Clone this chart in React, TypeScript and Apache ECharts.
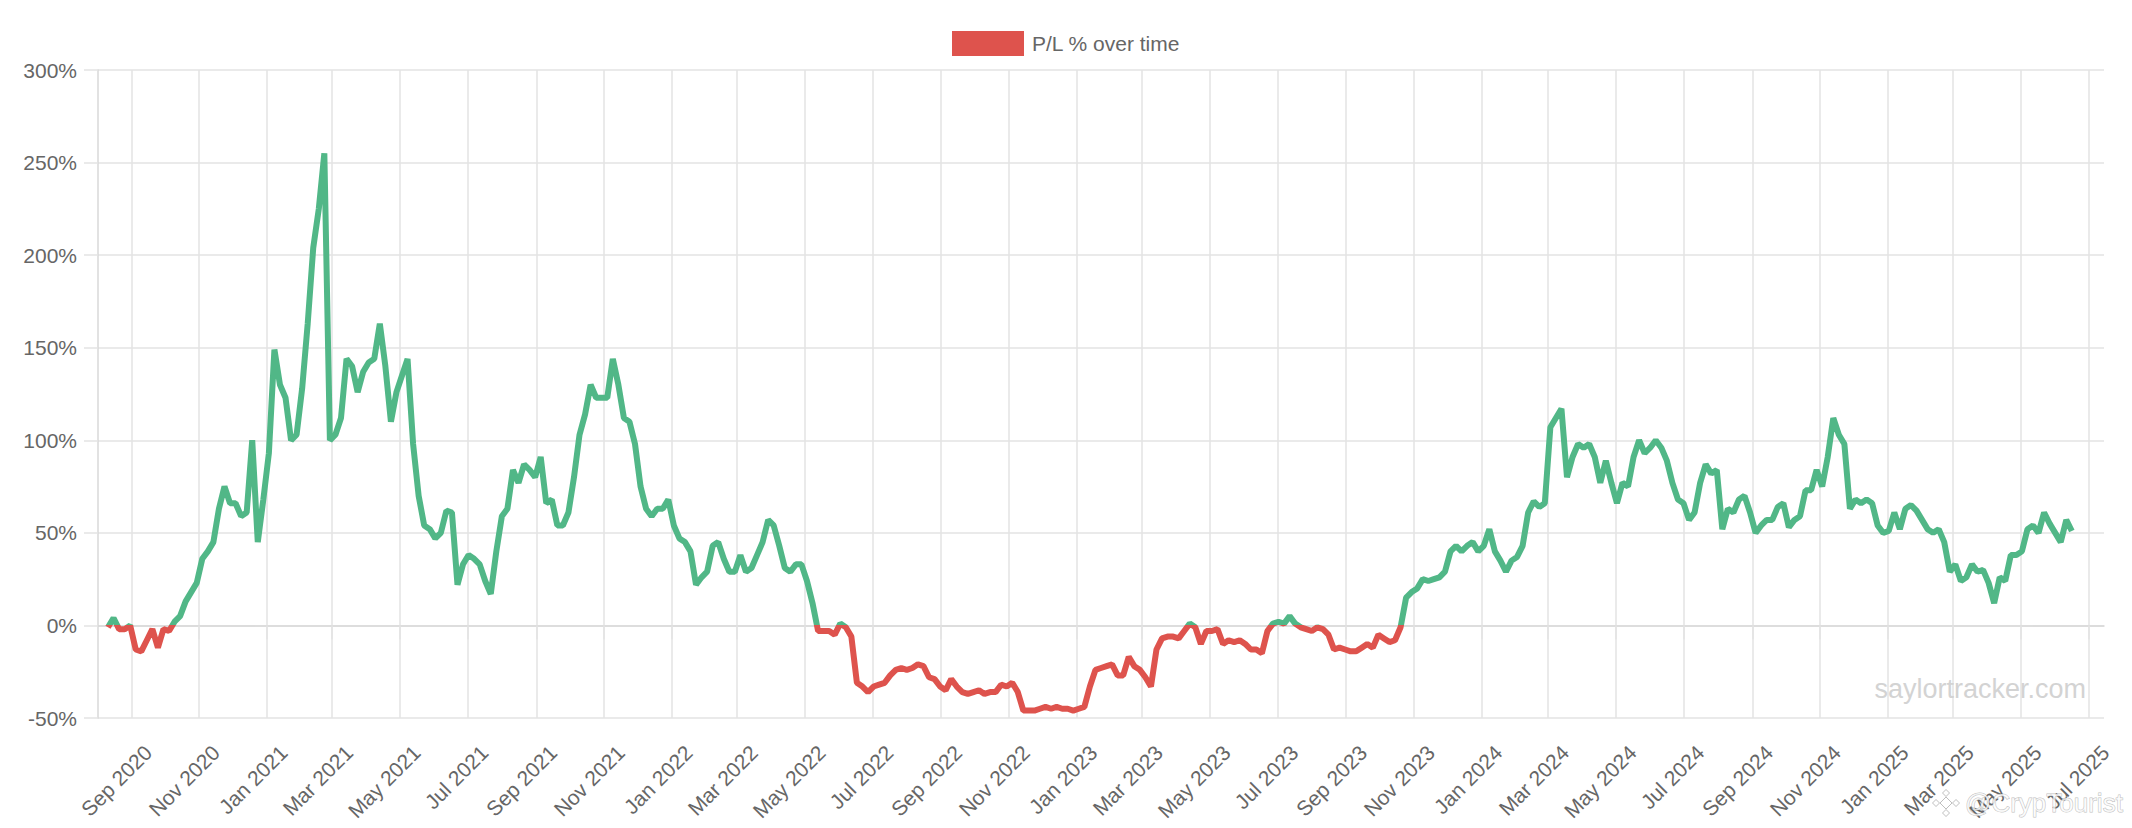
import React, { useEffect, useRef } from 'react';
import * as echarts from 'echarts';

const GREEN = '#51b787';
const RED = '#de534d';
const TEXT_COLOR = '#666666';
const GRID_COLOR = '#e3e3e3';
const AXIS_COLOR = '#d8d8d8';
const FONT = "'Helvetica Neue', Helvetica, Arial, 'Liberation Sans', sans-serif";

const SERIES_NAME = 'P/L % over time';

// x axis runs day by day between these two dates
const AXIS_START = '2020-08-02';
const AXIS_END = '2025-07-15';

// a tick, label and grid line on the 1st of every odd month
const MONTH_NAMES = ['Jan', 'Feb', 'Mar', 'Apr', 'May', 'Jun', 'Jul', 'Aug', 'Sep', 'Oct', 'Nov', 'Dec'];
const TICK_MONTHS = [1, 3, 5, 7, 9, 11];

// y axis
const Y_MIN = -50;
const Y_MAX = 300;
const Y_STEP = 50;

// P/L %, one value every 5 days from each block's start date
const SAMPLE_STEP_DAYS = 5;

const pl2020Start = '2020-08-11';
const pl2020 = [
  -1, 4, -2, -2, 0, -13, -14, -8, -2, -12,
  -2, -3, 2, 5, 13, 18, 23, 36, 40, 45,
  63, 75, 66, 66, 59, 61, 100, 45, 68,
];

const pl2021Start = '2021-01-03';
const pl2021 = [
  93, 149, 130, 123, 100, 103, 128, 163, 204, 225,
  255, 100, 103, 112, 144, 140, 126, 137, 142, 144,
  163, 140, 110, 126, 135, 144, 98, 70, 54, 52,
  47, 50, 62, 61, 22, 33, 38, 36, 33, 24,
  17, 40, 59, 63, 84, 77, 87, 84, 80, 91,
  66, 68, 54, 54, 61, 80, 103, 114, 130, 123,
  123, 123, 144, 130, 112, 110, 98, 75, 63, 59,
  63, 63, 68,
];

const pl2022Start = '2022-01-03';
const pl2022 = [
  54, 47, 45, 40, 22, 26, 29, 43, 45, 36,
  29, 29, 38, 29, 31, 38, 45, 57, 54, 43,
  31, 29, 33, 33, 24, 12, -3, -3, -3, -5,
  1, -1, -6, -31, -33, -36, -33, -32, -31, -27,
  -24, -23, -24, -23, -21, -22, -28, -29, -33, -35,
  -29, -33, -36, -37, -36, -35, -37, -36, -36, -32,
  -33, -31, -36, -46, -46, -46, -45, -44, -45, -44,
  -45, -45, -46,
];

const pl2023Start = '2023-01-03';
const pl2023 = [
  -45, -44, -33, -24, -23, -22, -21, -27, -27, -17,
  -22, -24, -28, -33, -13, -7, -6, -6, -7, -3,
  1, -1, -10, -3, -3, -2, -10, -8, -9, -8,
  -10, -13, -13, -15, -3, 1, 2, 1, 5, 1,
  -1, -2, -3, -1, -2, -5, -13, -12, -13, -14,
  -14, -12, -10, -12, -5, -7, -9, -8, -1, 15,
  18, 20, 25, 24, 25, 26, 29, 40, 43, 40,
  43, 45, 40,
];

const pl2024Start = '2024-01-03';
const pl2024 = [
  43, 52, 40, 35, 29, 35, 37, 43, 61, 67,
  64, 66, 107, 112, 117, 80, 91, 98, 96, 98,
  91, 77, 89, 77, 66, 77, 75, 91, 100, 93,
  96, 100, 96, 89, 77, 68, 66, 57, 61, 77,
  87, 82, 84, 52, 63, 61, 68, 70, 61, 50,
  54, 57, 57, 64, 66, 53, 57, 59, 73, 73,
  84, 75, 91, 112, 103, 98, 63, 68, 66, 68,
  66, 54, 50,
];

const pl2025Start = '2025-01-02';
const pl2025 = [
  51, 61, 52, 63, 65, 62, 57, 52, 50, 52,
  45, 29, 33, 24, 26, 33, 29, 30, 23, 12,
  26, 24, 38, 38, 40, 52, 54, 50, 61, 55,
  50, 45, 57, 51,
];

const DAY_MS = 86400000;
const toTime = (iso: string) => {
  const [y, m, d] = iso.split('-').map(Number);
  return Date.UTC(y, m - 1, d);
};
const toIso = (t: number) => new Date(t).toISOString().slice(0, 10);

function buildCategories() {
  const days: string[] = [];
  for (let t = toTime(AXIS_START); t <= toTime(AXIS_END); t += DAY_MS) days.push(toIso(t));
  return days;
}

function buildSeries() {
  const blocks: [string, number[]][] = [
    [pl2020Start, pl2020],
    [pl2021Start, pl2021],
    [pl2022Start, pl2022],
    [pl2023Start, pl2023],
    [pl2024Start, pl2024],
    [pl2025Start, pl2025],
  ];
  const points: [string, number][] = [];
  blocks.forEach(([start, values]) => {
    const t0 = toTime(start);
    values.forEach((v, i) => points.push([toIso(t0 + i * SAMPLE_STEP_DAYS * DAY_MS), v]));
  });
  return points;
}

// true on the days that carry a tick / label / grid line
const isTickDay = (_index: number, value: string) =>
  typeof value === 'string' && value.endsWith('-01') && TICK_MONTHS.includes(Number(value.slice(5, 7)));

const formatMonth = (value: string) =>
  `${MONTH_NAMES[Number(value.slice(5, 7)) - 1]} ${value.slice(0, 4)}`;

const App: React.FC = () => {
  const chartRef = useRef<HTMLDivElement>(null);

  useEffect(() => {
    if (!chartRef.current) return;
    document.body.style.margin = '0';
    document.body.style.overflow = 'hidden';

    const chart = echarts.init(chartRef.current, undefined, { renderer: 'svg' });

    const logoStyle = { fill: 'rgba(255,255,255,0.75)', stroke: 'rgba(110,110,110,0.45)', lineWidth: 1 };
    const diamond = (cx: number, cy: number, r: number) => ({
      type: 'polygon',
      shape: { points: [[cx, cy - r], [cx + r, cy], [cx, cy + r], [cx - r, cy]] },
      style: logoStyle,
    });

    const option = {
      animation: false,
      textStyle: { fontFamily: FONT },
      legend: {
        left: 952,
        top: 31,
        padding: 0,
        itemWidth: 72,
        itemHeight: 25,
        selectedMode: false,
        data: [{ name: SERIES_NAME, icon: 'rect', itemStyle: { color: RED, borderWidth: 0 } }],
        textStyle: { fontSize: 21, color: TEXT_COLOR, fontFamily: FONT, padding: [0, 0, 0, 3] },
      },
      grid: { left: 98, right: 28, top: 70, bottom: 110 },
      xAxis: {
        type: 'category',
        data: buildCategories(),
        boundaryGap: false,
        axisLine: { lineStyle: { color: AXIS_COLOR, width: 1.5 } },
        axisTick: { interval: isTickDay, length: 14, lineStyle: { color: GRID_COLOR, width: 1.5 } },
        axisLabel: {
          interval: isTickDay,
          rotate: 45,
          margin: 48,
          padding: [0, -24, 0, 0],
          fontSize: 21,
          color: TEXT_COLOR,
          fontFamily: FONT,
          formatter: formatMonth,
        },
        splitLine: { show: true, interval: isTickDay, lineStyle: { color: GRID_COLOR, width: 1.5 } },
      },
      yAxis: {
        type: 'value',
        min: Y_MIN,
        max: Y_MAX,
        interval: Y_STEP,
        axisLine: { show: true, lineStyle: { color: AXIS_COLOR, width: 1.5 } },
        axisTick: { show: true, length: 14, lineStyle: { color: GRID_COLOR, width: 1.5 } },
        axisLabel: { margin: 21, fontSize: 21, color: TEXT_COLOR, fontFamily: FONT, formatter: '{value}%' },
        splitLine: { lineStyle: { color: GRID_COLOR, width: 1.5 } },
      },
      // green at or above zero, red below
      visualMap: {
        type: 'piecewise',
        show: false,
        dimension: 1,
        seriesIndex: 0,
        pieces: [
          { gte: -1000, lt: 0, color: RED },
          { gte: 0, lte: 1000, color: GREEN },
        ],
      },
      series: [
        {
          name: SERIES_NAME,
          type: 'line',
          data: buildSeries(),
          showSymbol: false,
          symbol: 'none',
          lineStyle: { width: 6 },
          itemStyle: { color: RED },
          z: 3,
        },
      ],
      graphic: [
        {
          type: 'text',
          x: 2086,
          y: 689,
          z: 10,
          style: {
            text: 'saylortracker.com',
            align: 'right',
            verticalAlign: 'middle',
            fontSize: 27,
            fontFamily: FONT,
            fill: '#d3d3d3',
          },
        },
        {
          type: 'group',
          x: 1946,
          y: 803,
          z: 10,
          children: [diamond(0, 0, 6), diamond(0, -10, 3.5), diamond(0, 10, 3.5), diamond(-10, 0, 3.5), diamond(10, 0, 3.5)],
        },
        {
          type: 'text',
          x: 1965,
          y: 803,
          z: 10,
          style: {
            text: '@CrypTourist',
            verticalAlign: 'middle',
            fontSize: 26,
            fontFamily: FONT,
            fill: 'rgba(255,255,255,0.75)',
            stroke: 'rgba(110,110,110,0.45)',
            lineWidth: 1,
          },
        },
      ],
    };

    chart.setOption(option as any);

    return () => {
      chart.dispose();
    };
  }, []);

  return <div ref={chartRef} style={{ width: 2132, height: 828 }} />;
};

export default App;
